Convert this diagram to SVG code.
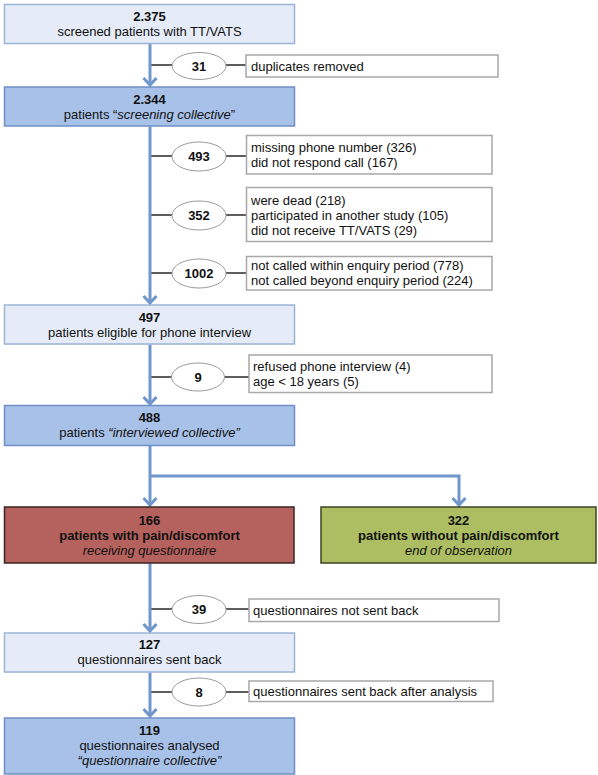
<svg xmlns="http://www.w3.org/2000/svg" width="598" height="775" viewBox="0 0 598 775">
<style>
text{font-family:"Liberation Sans",Arial,sans-serif;font-size:13px;fill:#111}
.c{text-anchor:middle}
.b{font-weight:bold}
.i{font-style:italic}
.light{fill:#e5ecf7;stroke:#9cb3d8;stroke-width:1.5}
.dark{fill:#a8c1e8;stroke:#6f8fc6;stroke-width:1.5}
.red{fill:#b5615d;stroke:#3a2424;stroke-width:1.5}
.green{fill:#adbe62;stroke:#3d4322;stroke-width:1.5}
.side{fill:#fff;stroke:#a8a8a8;stroke-width:1.5}
.ell{fill:#fff;stroke:#9a9a9a;stroke-width:1}
.flow{fill:none;stroke:#7096cc;stroke-width:3}
.tap{fill:none;stroke:#5e5e5e;stroke-width:2}
</style>
<defs>
<marker id="ah" markerUnits="userSpaceOnUse" markerWidth="16" markerHeight="16" viewBox="-10 -8 12 16" refX="0" refY="0" orient="auto">
<path d="M-7,-6.5 L0,0 L-7,6.5" fill="none" stroke="#7096cc" stroke-width="3"/>
</marker>
</defs>
<g id="connectors">
<line class="tap" x1="150" y1="65" x2="246" y2="65"/>
<line class="tap" x1="150" y1="156" x2="246" y2="156"/>
<line class="tap" x1="150" y1="215" x2="246" y2="215"/>
<line class="tap" x1="150" y1="273" x2="246" y2="273"/>
<line class="tap" x1="150" y1="377" x2="249" y2="377"/>
<line class="tap" x1="150" y1="609" x2="249" y2="609"/>
<line class="tap" x1="150" y1="692" x2="249" y2="692"/>
<path class="flow" d="M150,43.5 V85" marker-end="url(#ah)"/>
<path class="flow" d="M150,126.5 V303" marker-end="url(#ah)"/>
<path class="flow" d="M150,344.5 V404" marker-end="url(#ah)"/>
<path class="flow" d="M150,446 V505" marker-end="url(#ah)"/>
<path class="flow" d="M150,476 H459 V505" marker-end="url(#ah)"/>
<path class="flow" d="M150,563.5 V631" marker-end="url(#ah)"/>
<path class="flow" d="M150,672.5 V716" marker-end="url(#ah)"/>
</g>
<g id="n2375">
<rect class="light" x="4.5" y="4.5" width="290" height="39"/>
<text class="c b" x="149.5" y="21">2.375</text>
<text class="c" x="149.5" y="36">screened patients with TT/VATS</text>
</g>
<g id="e31">
<ellipse class="ell" cx="199" cy="66" rx="27" ry="13.5"/>
<text class="c b" x="199" y="70.5">31</text>
</g>
<g id="s31">
<rect class="side" x="246" y="55" width="252" height="22"/>
<text x="251" y="70.5">duplicates removed</text>
</g>
<g id="n2344">
<rect class="dark" x="4.5" y="87" width="290" height="39"/>
<text class="c b" x="149.5" y="103.5">2.344</text>
<text class="c" x="149.5" y="118.5">patients “<tspan class="i">screening collective</tspan>”</text>
</g>
<g id="e493">
<ellipse class="ell" cx="199" cy="156.5" rx="27" ry="14.5"/>
<text class="c b" x="199" y="161">493</text>
</g>
<g id="s493">
<rect class="side" x="246.5" y="135.5" width="245.5" height="38.5"/>
<text x="251" y="151.5">missing phone number (326)</text>
<text x="251" y="167">did not respond call (167)</text>
</g>
<g id="e352">
<ellipse class="ell" cx="199" cy="215.5" rx="27" ry="14.5"/>
<text class="c b" x="199" y="220">352</text>
</g>
<g id="s352">
<rect class="side" x="246.5" y="187.5" width="245.5" height="54"/>
<text x="251" y="205">were dead (218)</text>
<text x="251" y="220">participated in another study (105)</text>
<text x="251" y="235">did not receive TT/VATS (29)</text>
</g>
<g id="e1002">
<ellipse class="ell" cx="199" cy="273.5" rx="27" ry="14.5"/>
<text class="c b" x="199" y="278">1002</text>
</g>
<g id="s1002">
<rect class="side" x="246.5" y="256.5" width="245.5" height="33.5"/>
<text x="251" y="270">not called within enquiry period (778)</text>
<text x="251" y="285">not called beyond enquiry period (224)</text>
</g>
<g id="n497">
<rect class="light" x="4.5" y="305" width="290" height="39"/>
<text class="c b" x="149.5" y="322">497</text>
<text class="c" x="149.5" y="337">patients eligible for phone interview</text>
</g>
<g id="e9">
<ellipse class="ell" cx="198" cy="377" rx="26.5" ry="14"/>
<text class="c b" x="198" y="381.5">9</text>
</g>
<g id="s9">
<rect class="side" x="249" y="355" width="243" height="37.5"/>
<text x="253" y="370.5">refused phone interview (4)</text>
<text x="253" y="386">age &lt; 18 years (5)</text>
</g>
<g id="n488">
<rect class="dark" x="4.5" y="405.5" width="290" height="40"/>
<text class="c b" x="149.5" y="422">488</text>
<text class="c" x="149.5" y="437">patients <tspan class="i">“interviewed collective”</tspan></text>
</g>
<g id="n166">
<rect class="red" x="4.5" y="507" width="289.5" height="56"/>
<text class="c b" x="149.5" y="525">166</text>
<text class="c b" x="149.5" y="540">patients with pain/discomfort</text>
<text class="c i" x="149.5" y="555">receiving questionnaire</text>
</g>
<g id="n322">
<rect class="green" x="321" y="507" width="275" height="56"/>
<text class="c b" x="458.5" y="525">322</text>
<text class="c b" x="458.5" y="540">patients without pain/discomfort</text>
<text class="c i" x="458.5" y="555">end of observation</text>
</g>
<g id="e39">
<ellipse class="ell" cx="199" cy="609.5" rx="27" ry="14"/>
<text class="c b" x="199" y="614">39</text>
</g>
<g id="s39">
<rect class="side" x="249" y="599" width="250" height="22.5"/>
<text x="253" y="614.5">questionnaires not sent back</text>
</g>
<g id="n127">
<rect class="light" x="4.5" y="633" width="290" height="39"/>
<text class="c b" x="149.5" y="648.5">127</text>
<text class="c" x="149.5" y="664">questionnaires sent back</text>
</g>
<g id="e8">
<ellipse class="ell" cx="199" cy="692" rx="27" ry="14"/>
<text class="c b" x="199" y="696.5">8</text>
</g>
<g id="s8">
<rect class="side" x="249" y="681" width="244" height="20.5"/>
<text x="253" y="696">questionnaires sent back after analysis</text>
</g>
<g id="n119">
<rect class="dark" x="4.5" y="718" width="290" height="56"/>
<text class="c b" x="149.5" y="735">119</text>
<text class="c" x="149.5" y="750">questionnaires analysed</text>
<text class="c i" x="149.5" y="765">“questionnaire collective”</text>
</g>
</svg>
